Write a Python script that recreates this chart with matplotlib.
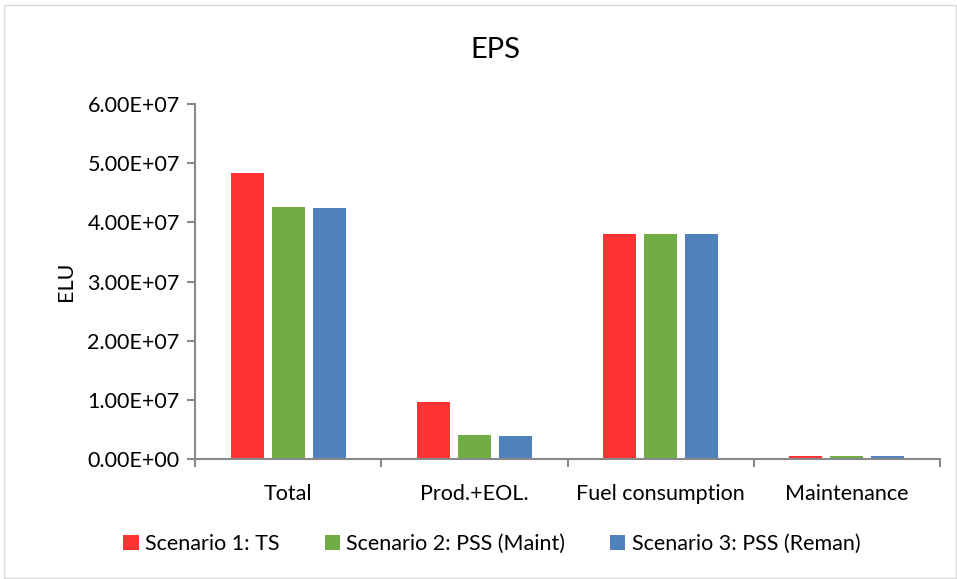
import numpy as np
import matplotlib.pyplot as plt
from matplotlib.patches import Rectangle

categories = ['Total', 'Prod.+EOL.', 'Fuel consumption', 'Maintenance']
series = ['Scenario 1: TS', 'Scenario 2: PSS (Maint)', 'Scenario 3: PSS (Reman)']
ts_vals = [4.83e7, 0.965e7, 3.80e7, 5.0e5]
maint_vals = [4.26e7, 0.40e7, 3.80e7, 4.5e5]
reman_vals = [4.25e7, 0.39e7, 3.80e7, 4.5e5]
colors = ['#FF3333', '#70AD47', '#4F81BD']

plt.rcParams['font.family'] = ['Lato', 'DejaVu Sans']
fs = 15.5

fig = plt.figure(figsize=(9.57, 5.79), dpi=100)
ax = fig.add_axes([195/957, 1 - 459/579, 745/957, 355/579])

# light border round the chart area
fig.patches.append(Rectangle((4/957, 0.002), 1 - 5/957, 1 - 6/579, transform=fig.transFigure,
                             fill=False, edgecolor='#D9D9D9', linewidth=1))

x = np.arange(len(categories))
width = 0.177
step = 0.22
for i, (vals, lab) in enumerate(zip([ts_vals, maint_vals, reman_vals], series)):
    ax.bar(x + (i - 1) * step, vals, width, color=colors[i], label=lab)

ax.set_xlim(-0.5, len(categories) - 0.5)
ax.set_ylim(0, 6e7)
yt = np.arange(0, 6.01e7, 1e7)
ax.set_yticks(yt)
ax.set_yticklabels(['%.2fE+07' % (v / 1e7) if v else '0.00E+00' for v in yt])
ax.set_xticks(x)
ax.set_xticklabels(categories)
ax.set_xticks(np.arange(-0.5, len(categories), 1), minor=True)
ax.tick_params(axis='x', which='major', length=0, labelsize=fs, pad=18)
ax.tick_params(axis='x', which='minor', length=6, color='#898989', width=1.5)
ax.tick_params(axis='y', length=6, color='#898989', width=1.5, labelsize=fs, pad=5)

for s in ['top', 'right']:
    ax.spines[s].set_visible(False)
for s in ['left', 'bottom']:
    ax.spines[s].set_color('#898989')
    ax.spines[s].set_linewidth(1.5)

ax.set_ylabel('ELU', fontsize=fs, labelpad=8)
fig.text(495/957, 1 - 50/579, 'EPS', ha='center', va='center', fontsize=21)

fig.legend(loc='center', bbox_to_anchor=(492/957, 1 - 544/579), ncol=3, frameon=False,
           fontsize=fs, handlelength=0.7, handleheight=0.7, handletextpad=0.3, columnspacing=2.1)

fig.savefig('out.png', dpi=100)
